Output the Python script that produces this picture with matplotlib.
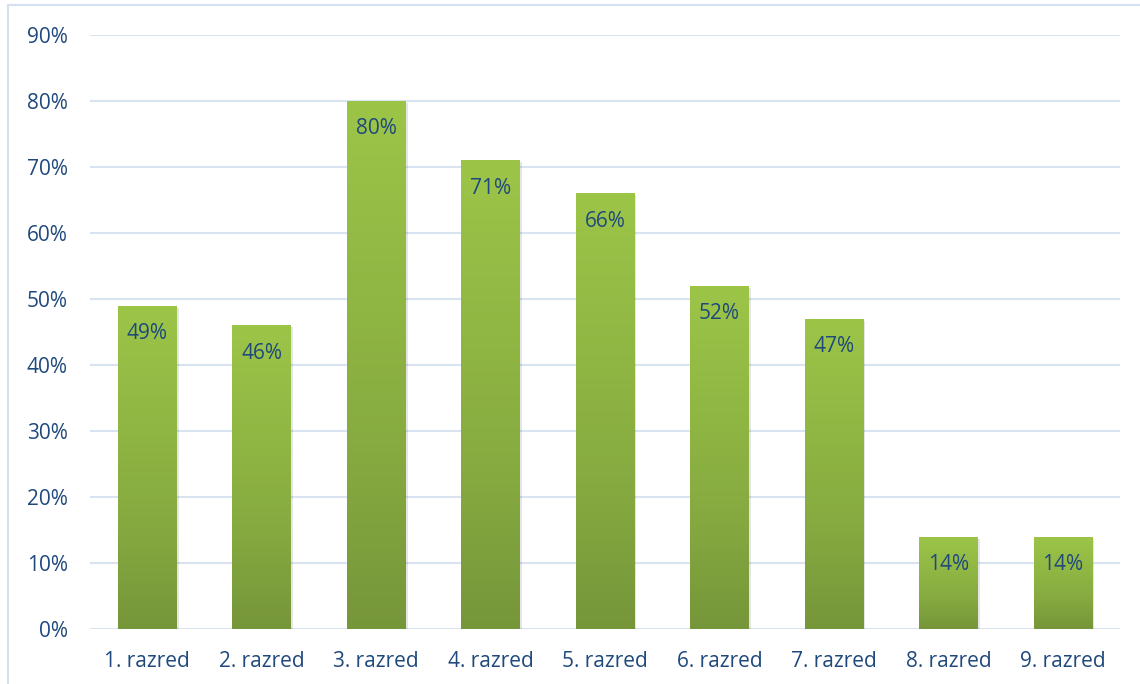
import matplotlib
matplotlib.use("Agg")
import matplotlib.pyplot as plt
import numpy as np
from matplotlib.patches import Rectangle
from matplotlib.colors import LinearSegmentedColormap
from matplotlib.ticker import FuncFormatter, MultipleLocator

categories = ["1. razred", "2. razred", "3. razred", "4. razred", "5. razred",
              "6. razred", "7. razred", "8. razred", "9. razred"]
values = [49, 46, 80, 71, 66, 52, 47, 14, 14]

text_color = "#1F497D"
grid_color = "#D9E3F1"
top_color = "#9CC548"
bot_color = "#76963A"

plt.rcParams['font.family'] = ['Open Sans', 'DejaVu Sans']

fig = plt.figure(figsize=(11.4, 6.84), dpi=100)
ax = fig.add_axes([90/1140, 55/684, 1030/1140, 594/684])

# outer frame
fig.patches.append(Rectangle((8/1140, -0.1), 1.2, (684-5)/684 + 0.1,
                             transform=fig.transFigure, fill=False,
                             edgecolor="#D5E1F0", linewidth=1.5, zorder=0))

x = np.arange(len(categories))
width = 0.51
cmap = LinearSegmentedColormap.from_list("g", [(0, bot_color), (0.35, "#87AB40"), (1, top_color)])
grad = np.linspace(0, 1, 256).reshape(-1, 1)

for xi, v in zip(x, values):
    sh = Rectangle((xi - width/2 + 0.02, -0.4), width, v + 0.1,
                   facecolor="#000000", alpha=0.10, edgecolor="none", zorder=2)
    ax.add_patch(sh)
    rect = Rectangle((xi - width/2, 0), width, v, facecolor="none",
                     edgecolor="none", zorder=3)
    ax.add_patch(rect)
    im = ax.imshow(grad, cmap=cmap, origin="lower", aspect="auto",
                   extent=[xi - width/2, xi + width/2, 0, v], zorder=3)
    im.set_clip_path(rect)
    ax.text(xi, v - 2.6, f"{v}%", ha="center", va="top", fontsize=15,
            color=text_color, zorder=4)

ax.set_xlim(-0.5, len(categories) - 0.5)
ax.set_ylim(0, 90)
ax.yaxis.set_major_locator(MultipleLocator(10))
ax.yaxis.set_major_formatter(FuncFormatter(lambda v, p: f"{v:.0f}%"))
ax.set_xticks(x)
ax.set_xticklabels(categories)
ax.tick_params(axis="both", length=0, labelsize=15, labelcolor=text_color)
ax.tick_params(axis="x", pad=16)
ax.tick_params(axis="y", pad=16)
ax.grid(axis="y", color=grid_color, linewidth=1.5, zorder=0)
ax.set_axisbelow(True)
for s in ax.spines.values():
    s.set_visible(False)

fig.savefig("out.png", dpi=100)
